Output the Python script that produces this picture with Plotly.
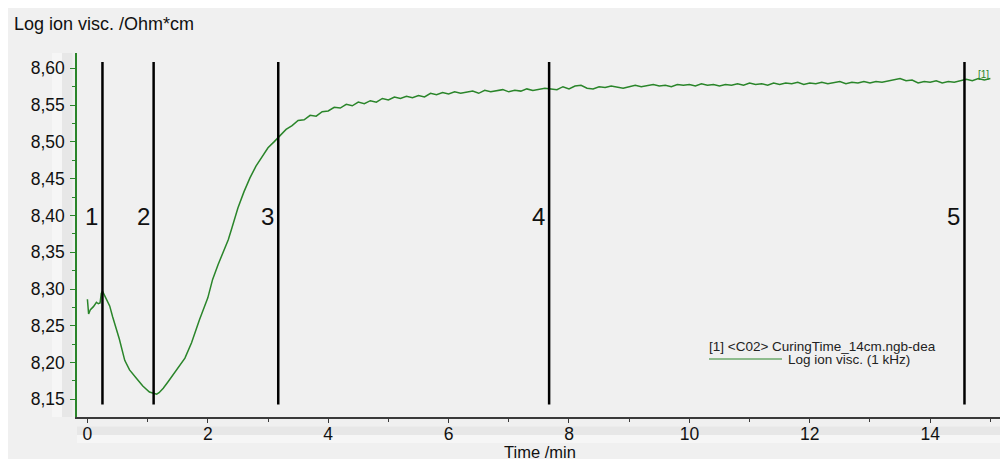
import plotly.graph_objects as go

# ---------------- data ----------------
time_min = [
    0.00, 0.02, 0.05, 0.10, 0.15, 0.18, 0.21, 0.23, 0.25, 0.28, 0.31, 0.37, 0.42, 0.48,
    0.53, 0.62, 0.70, 0.81, 0.92, 1.03, 1.10, 1.15, 1.19, 1.26, 1.34, 1.42, 1.53, 1.62,
    1.73, 1.86, 2.00, 2.08, 2.17, 2.25, 2.34,
    2.4, 2.5, 2.6, 2.7, 2.8, 2.9, 3.0, 3.1, 3.2, 3.3, 3.4, 3.5, 3.6, 3.7, 3.8, 3.9,
    4.0, 4.1, 4.2, 4.3, 4.4, 4.5, 4.6, 4.7, 4.8, 4.9,
    5.0, 5.1, 5.2, 5.3, 5.4, 5.5, 5.6, 5.7, 5.8, 5.9,
    6.0, 6.1, 6.2, 6.3, 6.4, 6.5, 6.6, 6.7, 6.8, 6.9,
    7.0, 7.1, 7.2, 7.3, 7.4, 7.5, 7.6, 7.7, 7.8, 7.9,
    8.0, 8.1, 8.2, 8.3, 8.4, 8.5, 8.6, 8.7, 8.8, 8.9,
    9.0, 9.1, 9.2, 9.3, 9.4, 9.5, 9.6, 9.7, 9.8, 9.9,
    10.0, 10.1, 10.2, 10.3, 10.4, 10.5, 10.6, 10.7, 10.8, 10.9,
    11.0, 11.1, 11.2, 11.3, 11.4, 11.5, 11.6, 11.7, 11.8, 11.9,
    12.0, 12.1, 12.2, 12.3, 12.4, 12.5, 12.6, 12.7, 12.8, 12.9,
    13.0, 13.1, 13.2, 13.3, 13.4, 13.5, 13.6, 13.7, 13.8, 13.9,
    14.0, 14.1, 14.2, 14.3, 14.4, 14.5, 14.6, 14.7, 14.8, 14.9, 15.0,
]
log_ion_visc = [
    8.286, 8.266, 8.272, 8.276, 8.282, 8.280, 8.281, 8.294, 8.297, 8.292, 8.288, 8.277, 8.262, 8.247,
    8.232, 8.203, 8.190, 8.179, 8.168, 8.160, 8.158, 8.157, 8.159, 8.165, 8.174, 8.183, 8.195, 8.206,
    8.227, 8.258, 8.288, 8.313, 8.333, 8.349, 8.367,
    8.383, 8.410, 8.432, 8.451, 8.467, 8.479, 8.492, 8.500, 8.508, 8.517, 8.522, 8.529, 8.530, 8.536, 8.535, 8.541,
    8.542, 8.547, 8.546, 8.551, 8.549, 8.554, 8.552, 8.556, 8.554, 8.559,
    8.557, 8.561, 8.559, 8.562, 8.560, 8.563, 8.561, 8.566, 8.564, 8.567,
    8.565, 8.568, 8.566, 8.567, 8.569, 8.566, 8.570, 8.568, 8.569, 8.571,
    8.568, 8.570, 8.569, 8.572, 8.570, 8.571, 8.573, 8.572, 8.571, 8.575,
    8.572, 8.576, 8.577, 8.573, 8.572, 8.575, 8.574, 8.576, 8.574, 8.573,
    8.575, 8.577, 8.575, 8.576, 8.578, 8.576, 8.577, 8.575, 8.578, 8.577,
    8.578, 8.576, 8.579, 8.577, 8.578, 8.576, 8.578, 8.577, 8.579, 8.577,
    8.580, 8.578, 8.579, 8.577, 8.580, 8.578, 8.580, 8.579, 8.581, 8.578,
    8.580, 8.579, 8.581, 8.579, 8.580, 8.582, 8.579, 8.581, 8.580, 8.582,
    8.580, 8.582, 8.581, 8.583, 8.585, 8.586, 8.583, 8.584, 8.580, 8.582,
    8.581, 8.583, 8.580, 8.582, 8.581, 8.583, 8.585, 8.583, 8.586, 8.584, 8.586,
]
event_times = [0.25, 1.10, 3.17, 7.67, 14.57]
event_labels = ["1", "2", "3", "4", "5"]
series_tag = "[1]"
legend_file = "[1] <C02> CuringTime_14cm.ngb-dea"
legend_series = "Log ion visc. (1 kHz)"
y_title = "Log ion visc. /Ohm*cm"
x_title = "Time /min"

# ---------------- style / layout ----------------
FONT = "Arial, Liberation Sans, sans-serif"
GREEN = "#2a852a"
BG = "#f0f0f0"
W, H = 1000, 459
PL, PR, PT, PB = 77, 1000, 53, 417  # plot area in pixels


def px(xp):
    return (xp - PL) / (PR - PL)


def py(yp):
    return (PB - yp) / (PB - PT)


fig = go.Figure()
fig.add_trace(go.Scatter(
    x=time_min, y=log_ion_visc, mode="lines",
    line=dict(color=GREEN, width=1.5), showlegend=False, hoverinfo="skip",
))

shapes = []
# white frame at top/left edge
shapes.append(dict(type="rect", xref="paper", yref="paper", x0=px(0), x1=px(W), y0=py(0), y1=py(8),
                   fillcolor="white", line=dict(width=0), layer="below"))
shapes.append(dict(type="rect", xref="paper", yref="paper", x0=px(0), x1=px(8), y0=py(H), y1=py(0),
                   fillcolor="white", line=dict(width=0), layer="below"))
# scroll-bar like bands behind tick labels
shapes.append(dict(type="rect", xref="paper", yref="paper", x0=px(52), x1=px(62), y0=py(PB), y1=py(PT),
                   fillcolor="#f6f6f6", line=dict(width=0), layer="below"))
shapes.append(dict(type="rect", xref="paper", yref="paper", x0=px(62), x1=px(72.5), y0=py(PB), y1=py(PT),
                   fillcolor="#e7e7e7", line=dict(width=0), layer="below"))
shapes.append(dict(type="rect", xref="paper", yref="paper", x0=px(77), x1=px(W), y0=py(435), y1=py(426.5),
                   fillcolor="#e7e7e7", line=dict(width=0), layer="below"))
shapes.append(dict(type="rect", xref="paper", yref="paper", x0=px(77), x1=px(W), y0=py(443), y1=py(435),
                   fillcolor="#f6f6f6", line=dict(width=0), layer="below"))
# event lines
for t in event_times:
    shapes.append(dict(type="line", xref="x", yref="y", x0=t, x1=t, y0=8.143, y1=8.6086,
                       line=dict(color="black", width=2.5), layer="above"))
# legend sample line
shapes.append(dict(type="line", xref="paper", yref="paper", x0=px(709), x1=px(782), y0=py(359), y1=py(359),
                   line=dict(color=GREEN, width=1.2)))

annotations = []
for t, lab in zip(event_times, event_labels):
    annotations.append(dict(x=t, y=8.398, xref="x", yref="y", text=lab, showarrow=False,
                            xanchor="right", yanchor="middle", xshift=-2,
                            font=dict(family=FONT, size=24, color="#111111")))
annotations.append(dict(x=time_min[-1], y=log_ion_visc[-1], xref="x", yref="y", text=series_tag,
                        showarrow=False, xanchor="right", yanchor="bottom", xshift=1, yshift=-3,
                        font=dict(family=FONT, size=10, color=GREEN)))
annotations.append(dict(x=px(12), y=py(24), xref="paper", yref="paper", text=y_title, showarrow=False,
                        xanchor="left", yanchor="middle", font=dict(family=FONT, size=18, color="#111111")))
annotations.append(dict(x=px(540), y=py(463), xref="paper", yref="paper", text=x_title, showarrow=False,
                        xanchor="center", yanchor="bottom", font=dict(family=FONT, size=16.5, color="#111111")))
annotations.append(dict(x=px(707), y=py(346.5), xref="paper", yref="paper", text=legend_file, showarrow=False,
                        xanchor="left", yanchor="middle", font=dict(family=FONT, size=13.5, color="#222222")))
annotations.append(dict(x=px(786), y=py(359.5), xref="paper", yref="paper", text=legend_series, showarrow=False,
                        xanchor="left", yanchor="middle", font=dict(family=FONT, size=13.5, color="#222222")))

fig.update_layout(
    width=W, height=H, autosize=False,
    margin=dict(l=PL, r=W - PR, t=PT, b=H - PB, pad=0),
    paper_bgcolor=BG, plot_bgcolor=BG,
    separators=",.",
    font=dict(family=FONT, size=17, color="#111111"),
    shapes=shapes, annotations=annotations,
    xaxis=dict(range=[-0.173, 15.16], showgrid=False, zeroline=False,
               showline=True, linecolor="#3a3a3a", linewidth=1.5,
               tickmode="linear", tick0=0, dtick=2, ticks="outside", ticklen=4, tickcolor="#3a3a3a",
               ticklabelstandoff=-4,
               tickfont=dict(family=FONT, size=17.5, color="#111111"),
               minor=dict(dtick=1, tick0=0, ticks="outside", ticklen=3, tickcolor="#3a3a3a")),
    yaxis=dict(range=[8.126, 8.6208], showgrid=False, zeroline=False,
               showline=True, linecolor=GREEN, linewidth=1.5,
               tickmode="linear", tick0=8.15, dtick=0.05, tickformat=".2f",
               ticks="outside", ticklen=5, tickcolor=GREEN, ticklabelstandoff=2,
               tickfont=dict(family=FONT, size=17.5, color="#111111"),
               minor=dict(dtick=0.025, tick0=8.125, ticks="outside", ticklen=3, tickcolor=GREEN)),
)

fig.write_html("out.html")
